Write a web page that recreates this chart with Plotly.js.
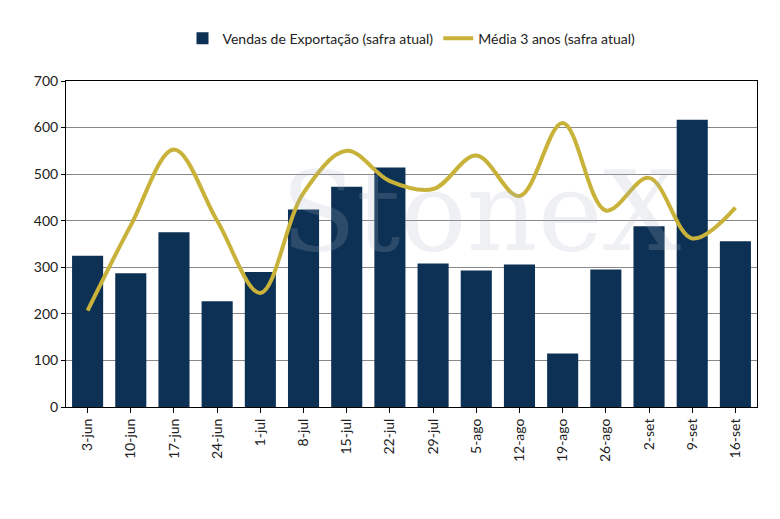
<!DOCTYPE html>
<html><head><meta charset="utf-8">
<script src="https://cdn.plot.ly/plotly-3.0.1.min.js"></script>
<style>body{margin:0}#c{width:780px;height:519px}</style></head>
<body><div id="c"></div>
<script>
const categories=["3-jun","10-jun","17-jun","24-jun","1-jul","8-jul","15-jul","22-jul","29-jul","5-ago","12-ago","19-ago","26-ago","2-set","9-set","16-set"];
const vendas=[325,287,375,227,290,424,473,514,308,293,306,115,295,388,617,356];
const media=[207,390,553,400,245,460,550,485,468,540,453,610,422,492,362,428];
const traces=[
 {type:"bar",x:categories,y:vendas,name:"Vendas de Exportação (safra atual)",marker:{color:"#0d3155"},width:0.72},
 {type:"scatter",mode:"lines",x:categories,y:media,name:"Média 3 anos (safra atual)",line:{color:"#c8b23a",width:4,shape:"spline",smoothing:1}}
];
const layout={
 width:780,height:519,paper_bgcolor:"#fff",plot_bgcolor:"#fff",
 font:{family:"Lato, sans-serif",size:14,color:"#222"},
 margin:{l:66,r:23,t:81,b:112},
 showlegend:true,
 legend:{orientation:"h",x:0.5,xanchor:"center",y:1.13,yanchor:"middle",font:{size:14},traceorder:"normal"},
 xaxis:{tickangle:-90,showline:true,linecolor:"#000",mirror:true,ticks:"outside",ticklen:5,tickcolor:"#000"},
 yaxis:{range:[0,700],dtick:100,showgrid:true,gridcolor:"#888",showline:true,linecolor:"#000",mirror:true,ticks:"outside",ticklen:4,tickcolor:"#000",zeroline:false},
 bargap:0.28,
 annotations:[{text:"StoneX",xref:"paper",yref:"paper",x:0.6,y:0.8,showarrow:false,font:{family:"DejaVu Serif, serif",size:110,color:"rgba(170,180,195,0.2)"}}]
};
Plotly.newPlot("c",traces,layout,{displayModeBar:false});
</script></body></html>
